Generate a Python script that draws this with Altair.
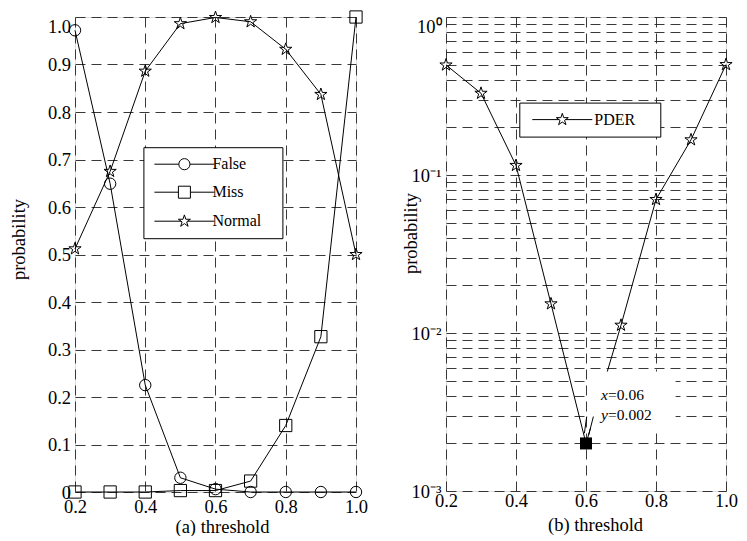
import altair as alt
import pandas as pd

# ---------------- data ----------------
thresholds = [0.2, 0.3, 0.4, 0.5, 0.6, 0.7, 0.8, 0.9, 1.0]
false_rate = [0.972, 0.649, 0.225, 0.030, 0.006, 0.0, 0.0, 0.0, 0.0]
miss_rate = [0.0, 0.0, 0.0, 0.003, 0.003, 0.023, 0.140, 0.327, 1.0]
normal_rate = [0.512, 0.675, 0.886, 0.986, 0.999, 0.990, 0.932, 0.837, 0.500]
pder_rate = [0.497, 0.329, 0.115, 0.0153, 0.002, 0.0112, 0.070, 0.167, 0.500]

series_names = ["False", "Miss", "Normal"]
pder_name = "PDER"

x_ticks = [0.2, 0.4, 0.6, 0.8, 1.0]
lin_ticks = [0, 0.1, 0.2, 0.3, 0.4, 0.5, 0.6, 0.7, 0.8, 0.9, 1.0]
log_ticks = [0.001, 0.002, 0.003, 0.004, 0.005, 0.006, 0.007, 0.008, 0.009,
             0.01, 0.02, 0.03, 0.04, 0.05, 0.06, 0.07, 0.08, 0.09,
             0.1, 0.2, 0.3, 0.4, 0.5, 0.6, 0.7, 0.8, 0.9, 1.0]

# annotation of the minimum (data tip)
tip_lines = ["x", "y"]
tip_values = ["=0.06", "=0.002"]
tip_x = [0.643, 0.643]
tip_y = [0.00375, 0.00281]
tip_box_x = [0.611]
tip_box_x2 = [0.856]
tip_box_y = [0.0025]
tip_box_y2 = [0.0057]
callout_x = [0.5954, 0.6077]
callout_x2 = [0.602, 0.6211]
callout_y = [0.00232, 0.00226]
callout_y2 = [0.00296, 0.00296]

SERIF = "Liberation Serif"
NB = "\u00a0"
ZW = "\u200b"
LBL = 18.5
TTL = 18.5

# ---------------- symbol paths ----------------
STAR = ("M0,-1.05L0.236,-0.325L0.999,-0.325L0.381,0.124L0.617,0.85L0,0.401"
        "L-0.617,0.85L-0.381,0.124L-0.999,-0.325L-0.236,-0.325Z")
CIRCLE = "M0.93,0A0.93,0.93 0 1,1 -0.93,0A0.93,0.93 0 1,1 0.93,0Z"
SQUARE = "M-1,-1H1V1H-1Z"
LEG_CIRCLE = "M-5,0H-0.93M0.93,0H5" + CIRCLE
LEG_SQUARE = "M-5,0H-1M1,0H5" + SQUARE
LEG_STAR = "M-5,0H-0.55M0.55,0H5" + STAR

# ---------------- tables ----------------
left_df = pd.DataFrame({
    "threshold": thresholds * 3,
    "probability": false_rate + miss_rate + normal_rate,
    "series": [series_names[0]] * 9 + [series_names[1]] * 9 + [series_names[2]] * 9,
})
right_df = pd.DataFrame({
    "threshold": thresholds,
    "probability": pder_rate,
    "series": [pder_name] * len(thresholds),
})
min_thr = thresholds[pder_rate.index(min(pder_rate))]
tip_df = pd.DataFrame({"var": tip_lines, "val": tip_values, "x": tip_x, "y": tip_y})
box_df = pd.DataFrame({"x": tip_box_x, "x2": tip_box_x2, "y": tip_box_y, "y2": tip_box_y2})
callout_df = pd.DataFrame({"x": callout_x, "x2": callout_x2, "y": callout_y, "y2": callout_y2})

grid_kw = dict(grid=True, gridDash=[10, 6], gridColor="#222", gridWidth=0.9,
               ticks=False, domain=False, labelFont=SERIF, labelColor="black",
               titleFont=SERIF, titleColor="black", titleFontWeight="normal",
               labelOverlap=False)

# ---------------- left panel ----------------
xl = alt.X("threshold:Q",
           scale=alt.Scale(domain=[0.2, 1.0], nice=False, zero=False),
           axis=alt.Axis(values=x_ticks, format=".1f", labelFlush=False,
                         labelFontSize=LBL, labelPadding=5,
                         title="(a) threshold", titleFontSize=TTL,
                         titleX=147, titleY=40, titleBaseline="alphabetic",
                         titleAlign="center", **grid_kw))
yl = alt.Y("probability:Q",
           scale=alt.Scale(domain=[0, 1], nice=False, zero=False),
           axis=alt.Axis(values=lin_ticks,
                         labelExpr="datum.value == 0 ? '0' : format(datum.value, '.1f')",
                         labelBaseline={"condition": {"test": "datum.value >= 0.999", "value": "top"},
                                        "value": "middle"},
                         labelFontSize=LBL, labelPadding=4.5,
                         title="probability", titleFontSize=TTL,
                         titleX=-47, titleY=222, titleBaseline="bottom",
                         titleAlign="center", titleAngle=270, **grid_kw))

left_base = alt.Chart(left_df).encode(x=xl, y=yl)
left_lines = left_base.mark_line(color="black", strokeWidth=1).encode(
    detail="series:N", order="threshold:Q")
left_points = left_base.mark_point(filled=False, color="black", strokeWidth=1,
                                   size=150, opacity=1).encode(
    shape=alt.Shape("series:N",
                    scale=alt.Scale(domain=series_names, range=[CIRCLE, SQUARE, STAR]),
                    legend=None))
left_legend = left_base.mark_point(filled=False, color="black", size=144,
                                   opacity=0, clip=True).encode(
    shape=alt.Shape("series:N",
                    scale=alt.Scale(domain=series_names,
                                    range=[LEG_CIRCLE, LEG_SQUARE, LEG_STAR]),
                    legend=alt.Legend(orient="none", legendX=68.4, legendY=130.2,
                                      title=None, direction="vertical",
                                      strokeColor="black", fillColor="white",
                                      padding=9, symbolSize=144,
                                      symbolStrokeWidth=1, symbolStrokeColor="black",
                                      symbolOpacity=1, symbolOffset=24,
                                      labelOffset=20, labelFont=SERIF,
                                      labelFontSize=16, labelColor="black",
                                      rowPadding=12,
                                      labelExpr="datum.label == 'Normal' ? 'Normal" + NB * 2 + "\u2009" + ZW + "' : datum.label")))

left = alt.layer(left_lines, left_points, left_legend).resolve_scale(
    shape="independent").properties(width=281, height=475)

# ---------------- right panel ----------------
log_label = ("abs(datum.value - 1) < 1e-9 ? '10\u2070' : "
             "abs(datum.value - 0.1) < 1e-9 ? '10\u207b\u00b9' : "
             "abs(datum.value - 0.01) < 1e-10 ? '10\u207b\u00b2' : "
             "abs(datum.value - 0.001) < 1e-11 ? '10\u207b\u00b3' : ''")

xr = alt.X("threshold:Q",
           scale=alt.Scale(domain=[0.2, 1.0], nice=False, zero=False),
           axis=alt.Axis(values=x_ticks, format=".1f", labelFlush=False,
                         labelFontSize=LBL, labelPadding=0,
                         title="(b) threshold", titleFontSize=TTL,
                         titleX=149, titleY=39, titleBaseline="alphabetic",
                         titleAlign="center", **grid_kw))
yr = alt.Y("probability:Q",
           scale=alt.Scale(type="log", domain=[0.001, 1], nice=False),
           axis=alt.Axis(values=log_ticks, labelExpr=log_label,
                         labelBaseline={"condition": {"test": "datum.value >= 0.999", "value": "top"},
                                        "value": "middle"},
                         labelFontSize=LBL, labelPadding=5,
                         title="probability", titleFontSize=TTL,
                         titleX=-26, titleY=216, titleBaseline="bottom",
                         titleAlign="center", titleAngle=270, **grid_kw))

right_base = alt.Chart(right_df).encode(x=xr, y=yr)
right_line = right_base.mark_line(color="black", strokeWidth=1).encode(order="threshold:Q")
right_stars = right_base.transform_filter(
    f"datum.threshold != {min_thr}").mark_point(
    shape=STAR, filled=False, color="black", strokeWidth=1, size=150, opacity=1)
right_min = right_base.transform_filter(
    f"datum.threshold == {min_thr}").mark_point(
    shape="square", filled=True, color="black", size=144, opacity=1)

tip_box = alt.Chart(box_df).mark_rect(color="white").encode(
    x="x:Q", x2="x2:Q", y="y:Q", y2="y2:Q")
callouts = alt.Chart(callout_df).mark_rule(color="black", strokeWidth=1).encode(
    x="x:Q", x2="x2:Q", y="y:Q", y2="y2:Q")
tip_var = alt.Chart(tip_df).mark_text(font=SERIF, fontSize=15.5, fontStyle="italic",
                                      align="left", baseline="alphabetic",
                                      color="black").encode(
    x="x:Q", y="y:Q", text="var:N")
tip_val = alt.Chart(tip_df).mark_text(font=SERIF, fontSize=15.5, align="left",
                                      baseline="alphabetic", dx=7,
                                      color="black").encode(
    x="x:Q", y="y:Q", text="val:N")

right_legend = right_base.mark_point(filled=False, color="black", size=144,
                                     opacity=0, clip=True).encode(
    shape=alt.Shape("series:N",
                    scale=alt.Scale(domain=[pder_name], range=[LEG_STAR]),
                    legend=alt.Legend(orient="none", legendX=73.3, legendY=85.6,
                                      title=None, direction="vertical",
                                      strokeColor="black", fillColor="white",
                                      padding=9, symbolSize=144,
                                      symbolStrokeWidth=1, symbolStrokeColor="black",
                                      symbolOpacity=1, symbolOffset=26,
                                      labelOffset=24, labelFont=SERIF,
                                      labelFontSize=16, labelColor="black",
                                      labelExpr="datum.label + '" + NB * 4 + ZW + "'")))

right = alt.layer(right_line, right_stars, tip_box, callouts, tip_var, tip_val,
                  right_min, right_legend).properties(width=280, height=474)

chart = alt.hconcat(left, right, spacing=90, bounds="flush").resolve_scale(
    x="independent", y="independent", shape="independent"
).properties(padding={"left": 0, "top": 0, "right": 0, "bottom": 0}
).configure_view(stroke="black", strokeWidth=1.5
).configure(background="white")

chart.save("out.html", embed_options={"renderer": "svg", "actions": False})
